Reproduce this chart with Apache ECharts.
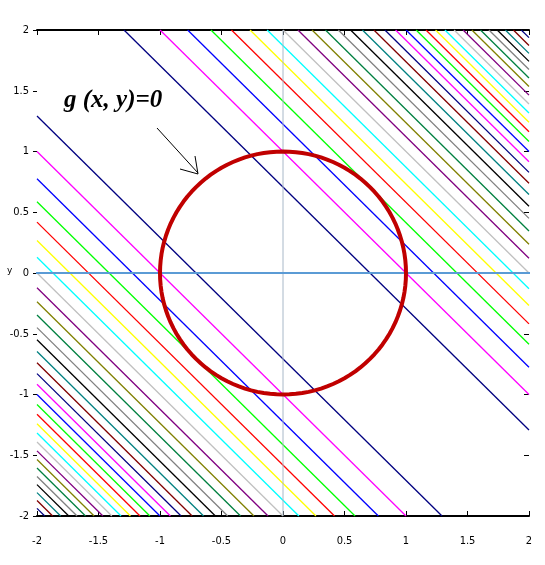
<!DOCTYPE html>
<html><head><meta charset="utf-8">
<script src="https://cdn.jsdelivr.net/npm/echarts@6/dist/echarts.min.js"></script>
<style>html,body{margin:0;padding:0;background:#fff}#c{width:545px;height:565px}</style>
</head><body><div id="c"></div>
<script>
// contour levels of (x+y)^2 : x+y = ±sqrt(level)
const levels = [0.5,1,1.5,2,2.5,3,3.5,4,4.5,5,5.5,6,6.5,7,7.5,8,8.5,9,9.5,10,10.5,11,11.5,12,12.5,13,13.5,14,14.5,15,15.5,16];
const palette = ['#000080','#ff00ff','#0000ff','#00ff00','#ff0000','#ffff00','#00ffff','#c0c0c0','#800080','#808000','#008040','#808080','#000000','#008080','#800000'];
const tickLabels = ['-2','-1.5','-1','-0.5','0','0.5','1','1.5','2'];
const circleRadius = 1;
const annotation = 'g (x, y)=0';

const series = [];
levels.forEach((L,i)=>{
  const c = Math.sqrt(L);
  [c,-c].forEach(v=>{
    const x0 = Math.max(-2, v-2), x1 = Math.min(2, v+2);
    if (x0 >= x1) return;
    series.push({type:'line',data:[[x0,v-x0],[x1,v-x1]],symbol:'none',silent:true,
      lineStyle:{color:palette[i%palette.length],width:1.3},z:2});
  });
});
series.push({type:'line',data:[[0,-2],[0,2]],symbol:'none',lineStyle:{color:'#a8b8c8',width:1},z:3});
series.push({type:'line',data:[[-2.22,0],[2.14,0]],symbol:'none',clip:false,lineStyle:{color:'#5b9bd5',width:2},z:4});
const circ = [];
for (let k=0;k<=120;k++){const t=k/120*2*Math.PI;circ.push([circleRadius*Math.cos(t),circleRadius*Math.sin(t)]);}
series.push({type:'line',data:circ,symbol:'none',smooth:false,lineStyle:{color:'#c00000',width:4},z:5});

const chart = echarts.init(document.getElementById('c'));
const lab = {fontFamily:'DejaVu Sans Condensed',fontSize:11,color:'#000'};
chart.setOption({
  animation:false,
  grid:{left:37,right:16,top:30,bottom:49},
  xAxis:[{type:'value',min:-2,max:2,interval:0.5,position:'bottom',
    axisLine:{show:true,onZero:false,lineStyle:{color:'#000',width:2}},
    axisTick:{show:true,inside:true,length:5,lineStyle:{color:'#000'}},
    axisLabel:Object.assign({margin:20,formatter:(v,i)=>tickLabels[i]},lab),splitLine:{show:false}},
   {type:'value',min:-2,max:2,interval:0.5,position:'top',
    axisLine:{show:true,onZero:false,lineStyle:{color:'#000',width:2}},
    axisTick:{show:true,inside:true,length:5,lineStyle:{color:'#000'}},
    axisLabel:{show:false},splitLine:{show:false}}],
  yAxis:[{type:'value',min:-2,max:2,interval:0.5,position:'left',
    axisLine:{show:false,onZero:false},
    axisTick:{show:true,length:4,lineStyle:{color:'#000'}},
    axisLabel:Object.assign({margin:8,formatter:(v,i)=>tickLabels[i]},lab),splitLine:{show:false}},
   {type:'value',min:-2,max:2,interval:0.5,position:'right',
    axisLine:{show:false,onZero:false},
    axisTick:{show:true,inside:true,length:5,lineStyle:{color:'#000'}},
    axisLabel:{show:false},splitLine:{show:false}}],
  series:series,
  graphic:[
    {type:'text',left:64,top:88,style:{text:annotation,font:'italic bold 25px "Liberation Serif"',fill:'#000'}},
    {type:'line',shape:{x1:157,y1:128,x2:198,y2:173},style:{stroke:'#000',lineWidth:1}},
    {type:'polyline',shape:{points:[[180,169],[198,174],[195,156]]},style:{stroke:'#000',fill:null,lineWidth:1}},
    {type:'text',left:7,top:266,style:{text:'y',font:'9px "DejaVu Sans"',fill:'#000'}}
  ]
});
</script></body></html>
